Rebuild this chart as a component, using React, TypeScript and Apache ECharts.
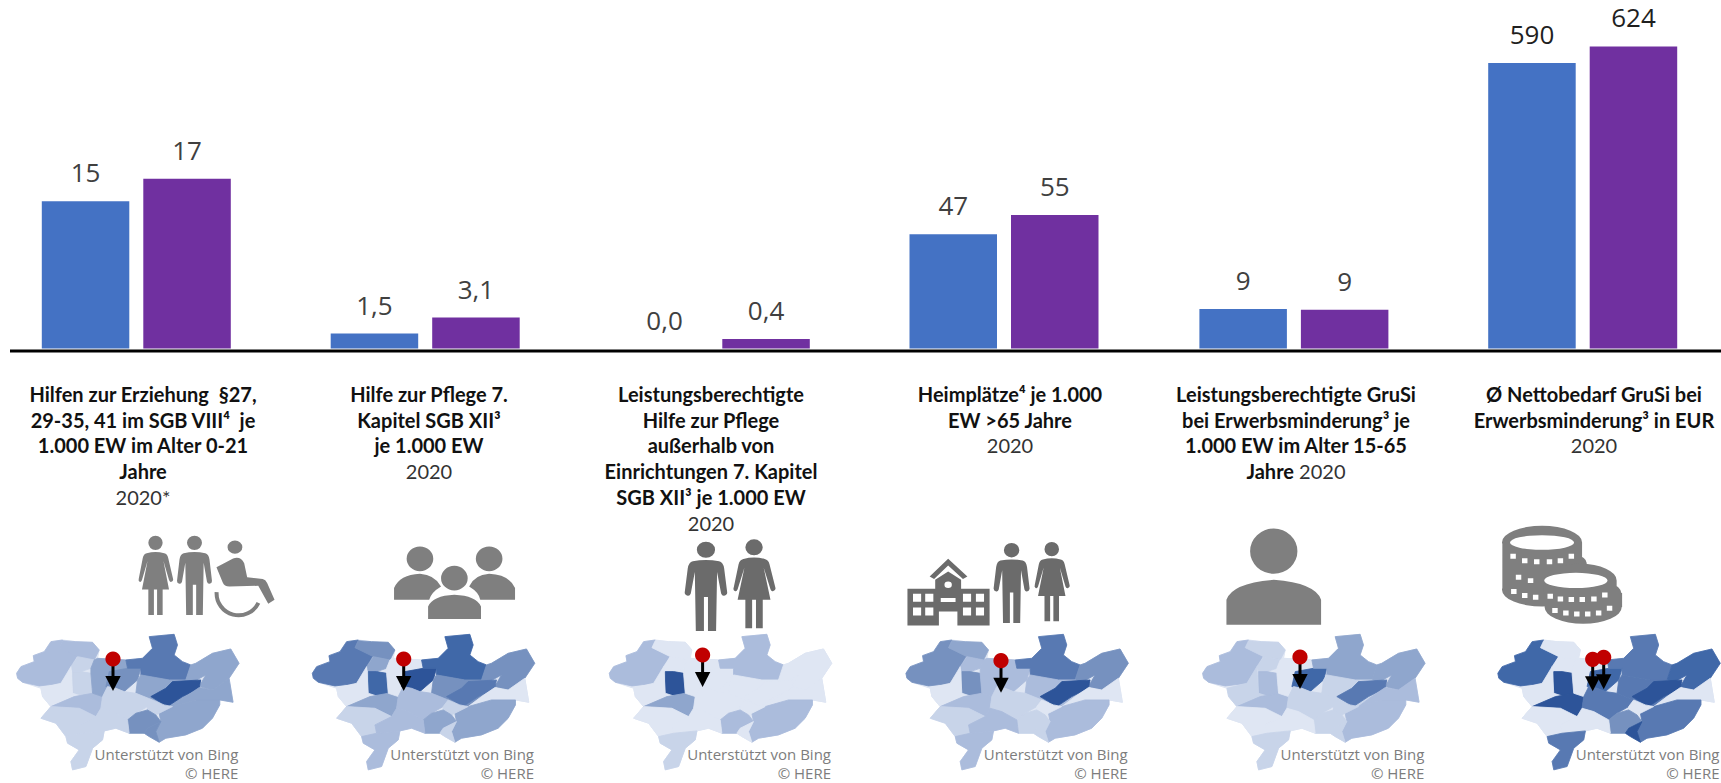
import React, { useEffect, useRef } from "react";
import * as echarts from "echarts";

const W = 1721;
const H = 783;
const seriesNames = ["Stadt", "Vergleich"];
const blueValues = [15, 1.5, 0, 47, 9.2, 590];
const purpleValues = [17.3, 3.1, 0.4, 55, 9, 624];
const labelDecimals = [0, 1, 1, 0, 0, 0];
const panelMax = [35.5, 34.85, 14.7, 143.5, 81, 720];
const panelCenters = [136.3, 425.2, 715.3, 1004, 1293.9, 1582.7];
const textCenters = [143, 429, 711, 1010, 1296, 1594];
const panelTitles = [
  ["Hilfen zur Erziehung  §27,", "29-35, 41 im SGB VIII⁴  je", "1.000 EW im Alter 0-21", "Jahre", "2020*"],
  ["Hilfe zur Pflege 7.", "Kapitel SGB XII³", "je 1.000 EW", "2020"],
  ["Leistungsberechtigte", "Hilfe zur Pflege", "außerhalb von", "Einrichtungen 7. Kapitel", "SGB XII³ je 1.000 EW", "2020"],
  ["Heimplätze⁴ je 1.000", "EW >65 Jahre", "2020"],
  ["Leistungsberechtigte GruSi", "bei Erwerbsminderung³ je", "1.000 EW im Alter 15-65", "Jahre 2020"],
  ["Ø Nettobedarf GruSi bei", "Erwerbsminderung³ in EUR", "2020"],
];

const ell = (cx: number, cy: number, rx: number, ry: number) =>
  `M${cx - rx} ${cy}a${rx} ${ry} 0 1 1 ${2 * rx} 0a${rx} ${ry} 0 1 1 ${-2 * rx} 0Z`;
const box = (x: number, y: number, w: number, h: number) => `M${x} ${y}h${w}v${h}h${-w}Z`;
const boxes = (list: number[][], w: number, h: number) => list.map(([x, y]) => box(x, y, w, h)).join("");

const manPath =
  ell(21, 9, 9, 9) +
  "M8 22Q21 19 34 22Q38 23 39 30L42 57Q42 60 39 60.5Q37 61 36 58L32 34L31 100L23 100L23 62L19 62L19 100L11 100L10 34L6 58Q5 61 3 60.5Q0 60 0 57L3 30Q4 23 8 22Z";
const womanPath =
  ell(22, 9, 9, 9) +
  "M11 22Q22 19 33 22Q37 23 38 28L44 54Q45 57 42 58Q40 59 39 56L32 32L39 68L31 68L31 100L24 100L24 68L20 68L20 100L13 100L13 68L5 68L12 32L5 56Q4 59 2 58Q0 57 1 54L6 28Q7 23 11 22Z";
const GREY = "#7f7f7f";
const DARK = "#6b6b6b";

type Part = { d: string; fill: string; ox: number; oy: number; sx: number; sy: number };
const crop = (ox: number, sx = 1 / 2.703) => ({ ox, oy: 370, sx, sy: 1 / 3 });
const c3 = 1 / 2.746;
const iconParts: Part[] = [
  { d: womanPath, fill: GREY, ox: 138, oy: 535.7, sx: 35 / 44, sy: 0.793 },
  { d: manPath, fill: GREY, ox: 177, oy: 535.7, sx: 35 / 42, sy: 0.793 },
  { d: ell(635, 532, 20, 20) + "M585 592Q610 578 630 566Q650 558 660 580L668 622L710 628Q718 630 722 640L742 690L725 702L698 648L620 650Q606 650 602 638Z", fill: GREY, ...crop(0) },
  {
    d:
      ell(1135, 567, 36, 37) + ell(1322, 567, 36, 37) + ell(1228, 625, 36, 37) +
      "M1065 690L1065 655Q1080 615 1135 612Q1175 615 1192 650Q1165 668 1160 690Z" +
      "M1392 690L1392 655Q1377 615 1322 612Q1282 615 1268 650Q1295 668 1298 690Z" +
      "M1157 748L1157 710Q1170 678 1228 675Q1287 678 1300 710L1300 748Z",
    fill: GREY,
    ...crop(0),
  },
  { d: manPath, fill: DARK, ox: 684.7, oy: 541.7, sx: 42.5 / 42, sy: 0.893 },
  { d: womanPath, fill: DARK, ox: 732.8, oy: 539.3, sx: 42.5 / 44, sy: 0.89 },
  {
    d:
      "M885 657L960 657L960 630L995 605L1030 630L1030 657L1107 657L1107 767L1020 767L1020 725L970 725L970 767L885 767Z" +
      "M945 620L995 567L1047 620L1035 628L995 587L957 628Z",
    fill: DARK,
    ...crop(580),
  },
  {
    d: boxes([[900, 672], [933, 672], [1035, 672], [1070, 672], [900, 713], [933, 713], [1035, 713], [1070, 713]], 22, 24) + box(975, 685, 40, 12) + ell(995, 645, 10, 10),
    fill: "#ffffff",
    ...crop(580),
  },
  { d: manPath, fill: DARK, ox: 993.6, oy: 543, sx: 36 / 42, sy: 0.8 },
  { d: womanPath, fill: DARK, ox: 1034, oy: 542, sx: 35.5 / 44, sy: 0.793 },
  { d: ell(340, 544, 65, 68) + "M210 765L210 690Q225 640 340 630Q455 640 470 690L470 765Z", fill: GREY, ...crop(1150, c3) },
  {
    d: ell(1077, 518, 110, 50) + box(968, 518, 219, 142) + ell(1090, 580, 110, 40) + ell(1077, 660, 110, 50),
    fill: GREY,
    ...crop(1150, c3),
  },
  {
    d: ell(1077, 518, 88, 22) + boxes([[990, 552], [1022, 565], [1055, 568], [1090, 568], [1120, 565], [1150, 552], [1005, 615], [1038, 625], [992, 658], [1022, 670], [1052, 675]], 15, 15),
    fill: "#ffffff",
    ...crop(1150, c3),
  },
  {
    d: ell(1182, 632, 100, 50) + box(1082, 632, 200, 40) + ell(1190, 670, 105, 45) + box(1085, 670, 212, 42) + ell(1190, 712, 106, 50),
    fill: GREY,
    ...crop(1150, c3),
  },
  {
    d: ell(1170, 632, 87, 23) + boxes([[1092, 672], [1120, 680], [1150, 682], [1180, 682], [1212, 680], [1242, 668], [1105, 715], [1135, 722], [1165, 725], [1195, 725], [1225, 722], [1255, 708]], 15, 15),
    fill: "#ffffff",
    ...crop(1150, c3),
  },
];
iconParts.forEach((p, i) => {
  echarts.graphic.registerShape("icon" + i, echarts.graphic.extendPath(p.d, {}));
});

const mapShades = ["#dfe6f3", "#c8d4e9", "#abbcdc", "#8fa6cd", "#7691bf", "#5879b2", "#4068a8", "#2d5499"];
const mapOutline =
  "22,145 35,125 75,110 72,92 105,80 125,50 160,45 200,50 250,52 270,75 265,100 350,105 400,100 430,70 420,35 495,28 505,60 495,90 520,110 545,120 560,115 610,85 665,72 690,115 660,160 672,232 632,225 632,240 610,280 580,310 530,330 470,340 450,352 420,335 405,325 360,325 320,310 285,318 280,345 250,370 230,425 190,435 185,410 210,375 175,355 170,335 140,295 95,280 125,245 100,215 95,190 40,172 25,160";
const mapRegions = [
  "22,145 35,125 75,110 72,92 105,80 125,50 160,45 150,68 205,90 185,125 155,175 90,183 40,172 25,160",
  "150,68 160,47 200,50 250,52 270,75 255,105 205,95",
  "185,125 205,95 255,105 245,130 215,140 190,140",
  "190,140 215,140 245,145 250,205 215,213 190,205",
  "95,190 155,175 185,125 190,205 215,213 175,225 125,245 100,215",
  "125,245 195,215 250,205 280,215 275,250 260,275 210,250",
  "255,105 265,100 350,105 355,130 305,140 295,185 280,215 250,205 245,145 245,130",
  "300,140 355,130 395,130 385,165 345,200 320,190 290,185",
  "350,105 400,100 430,70 420,35 495,28 505,60 495,90 520,110 545,120 530,165 480,165 395,150 395,130 355,130",
  "530,165 545,120 560,115 610,85 665,72 690,115 660,160 610,195 570,185 590,150 550,172",
  "385,165 395,150 480,165 530,165 570,185 530,215 490,245 465,240 430,225 380,205",
  "425,215 470,190 490,170 575,165 570,190 520,215 470,248 450,230",
  "570,188 610,195 660,160 672,232 632,225 560,225 490,245 530,215",
  "450,265 490,245 560,225 632,225 632,240 610,280 580,310 530,330 470,340 450,352 440,320 455,290",
  "280,215 295,185 320,190 345,200 380,205 430,225 415,245 380,265 355,285 310,260 275,250",
  "415,245 430,225 465,240 490,245 450,265 440,270 415,260",
  "355,285 380,265 415,255 440,270 455,290 415,310 405,325 360,325",
  "405,325 415,310 455,290 440,320 450,352 420,335",
  "95,280 125,245 210,250 260,275 210,300 215,325 170,335 140,295",
  "210,300 260,275 275,250 310,260 355,285 360,325 320,310 285,318 215,325",
  "170,335 215,325 285,318 280,345 250,370 230,425 190,435 185,410 210,375 175,355",
];
const mapLevels = [
  [2, 2, 1, 1, 0, 2, 3, 4, 5, 3, 3, 7, 3, 3, 1, 1, 4, 4, 1, 1, 1],
  [5, 4, 3, 6, 0, 3, 0, 7, 6, 4, 4, 5, 0, 3, 2, 1, 3, 1, 1, 2, 2],
  [2, 0, 0, 7, 0, 3, 0, 0, 2, 0, 0, 0, 0, 2, 0, 0, 2, 0, 0, 0, 1],
  [4, 3, 2, 4, 0, 2, 2, 2, 5, 4, 2, 7, 0, 2, 1, 0, 1, 1, 1, 2, 2],
  [2, 1, 1, 2, 1, 2, 0, 6, 3, 3, 1, 5, 2, 2, 1, 1, 1, 1, 0, 0, 1],
  [6, 0, 0, 7, 0, 7, 0, 6, 5, 6, 5, 7, 0, 5, 5, 0, 4, 7, 0, 0, 5],
];
const mapOrigins = [9.3, 305, 602, 898.6, 1195.3, 1490.5];
const pins = [
  [[113, 659]],
  [[403.7, 659]],
  [[702.6, 655]],
  [[1001, 660.7]],
  [[1300, 657]],
  [[1592.7, 659.3], [1603.7, 657.3]],
];
const credits = ["Unterstützt von Bing", "© HERE"];

const parsePts = (pts: string) => pts.split(" ").map((s) => s.split(",").map(Number));

function buildGraphics() {
  const els: any[] = [];
  els.push({
    type: "line",
    silent: true,
    shape: { x1: 10, y1: 351, x2: W, y2: 351 },
    style: { stroke: "#000000", lineWidth: 3 },
  });

  const boldFont = 'bold 20px Lato, "Noto Sans", sans-serif';
  const regFont = '20px Lato, "Noto Sans", sans-serif';
  panelTitles.forEach((lines, pi) => {
    lines.forEach((line, li) => {
      const y = 394 + li * 25.7;
      const isYear = /^2020\*?$/.test(line);
      const mixed = line === "Jahre 2020";
      els.push({
        type: "text",
        silent: true,
        x: textCenters[pi],
        y,
        style: mixed
          ? {
              text: "{b|Jahre} {r|2020}",
              align: "center",
              verticalAlign: "middle",
              font: regFont,
              rich: {
                b: { fill: "#111111", fontWeight: "bold", fontFamily: "Lato", fontSize: 20 },
                r: { fill: "#333333", fontFamily: "Lato", fontSize: 20 },
              },
            }
          : {
              text: line,
              align: "center",
              verticalAlign: "middle",
              font: isYear ? regFont : boldFont,
              fill: isYear ? "#333333" : "#111111",
            },
      });
    });
  });

  iconParts.forEach((p, i) => {
    els.push({
      type: "icon" + i,
      silent: true,
      x: p.ox,
      y: p.oy,
      scaleX: p.sx,
      scaleY: p.sy,
      style: { fill: p.fill },
    });
  });
  els.push({
    type: "arc",
    silent: true,
    shape: { cx: 238.6, cy: 593.3, r: 22, startAngle: 0.45, endAngle: 3.2, clockwise: true },
    style: { stroke: GREY, lineWidth: 4, fill: "none" },
  });

  mapOrigins.forEach((ox, mi) => {
    const base = {
      type: "polygon",
      silent: true,
      shape: { points: parsePts(mapOutline) },
      style: { fill: mapShades[0], stroke: mapShades[0], lineWidth: 3, lineJoin: "round" },
    };
    els.push({
      type: "group",
      silent: true,
      x: ox,
      y: 625,
      scaleX: 1 / 3,
      scaleY: 1 / 3,
      children: [
        base,
        ...mapRegions.map((pts, ri) => {
          const col = mapShades[mapLevels[mi][ri]];
          return {
            type: "polygon",
            silent: true,
            shape: { points: parsePts(pts) },
            style: { fill: col, stroke: col, lineWidth: 2.5, lineJoin: "round" },
          };
        }),
      ],
    });
    credits.forEach((t, ci) => {
      els.push({
        type: "text",
        silent: true,
        x: ox + 229,
        y: ci === 0 ? 754 : 772.5,
        style: {
          text: t,
          align: "right",
          verticalAlign: "middle",
          font: '15px "Open Sans", sans-serif',
          fill: "#7d7d7d",
        },
      });
    });
  });

  pins.flat().forEach(([x, y]) => {
    els.push({
      type: "line",
      silent: true,
      shape: { x1: x, y1: y, x2: x, y2: y + 20 },
      style: { stroke: "#000000", lineWidth: 3 },
    });
    els.push({
      type: "polygon",
      silent: true,
      shape: { points: [[x - 7.7, y + 17], [x + 7.7, y + 17], [x, y + 32]] },
      style: { fill: "#000000" },
    });
    els.push({
      type: "circle",
      silent: true,
      shape: { cx: x, cy: y, r: 7.6 },
      style: { fill: "#c00000" },
    });
  });
  return els;
}

export default function App() {
  const ref = useRef<HTMLDivElement>(null);
  useEffect(() => {
    const chart = echarts.init(ref.current!, undefined, { renderer: "svg", width: W, height: H });
    const halfPanel = 130;
    const grid = panelCenters.map((c) => ({
      left: c - halfPanel,
      width: 2 * halfPanel,
      top: 0,
      height: 348.5,
    }));
    const xAxis = panelCenters.map((_, i) => ({
      type: "category",
      gridIndex: i,
      data: [panelTitles[i][0]],
      axisLine: { show: false },
      axisTick: { show: false },
      axisLabel: { show: false },
    }));
    const yAxis = panelCenters.map((_, i) => ({
      type: "value",
      gridIndex: i,
      min: 0,
      max: panelMax[i],
      show: false,
      splitLine: { show: false },
    }));
    const makeSeries = (values: number[], name: string, color: string) =>
      values.map((v, i) => ({
        type: "bar",
        name,
        xAxisIndex: i,
        yAxisIndex: i,
        data: [v],
        barWidth: 87.5,
        barGap: "16%",
        itemStyle: { color },
        label: {
          show: true,
          position: "top",
          distance: 16,
          fontFamily: '"Open Sans", sans-serif',
          fontSize: 26,
          color: i === 5 ? "#1f1f1f" : "#404040",
          formatter: () => v.toFixed(labelDecimals[i]).replace(".", ","),
        },
      }));
    chart.setOption({
      animation: false,
      backgroundColor: "#ffffff",
      grid,
      xAxis,
      yAxis,
      series: [...makeSeries(blueValues, seriesNames[0], "#4472c4"), ...makeSeries(purpleValues, seriesNames[1], "#7030a0")],
      graphic: { elements: buildGraphics() },
    });
    return () => chart.dispose();
  }, []);
  return <div ref={ref} style={{ position: "fixed", left: 0, top: 0, width: W, height: H }} />;
}
